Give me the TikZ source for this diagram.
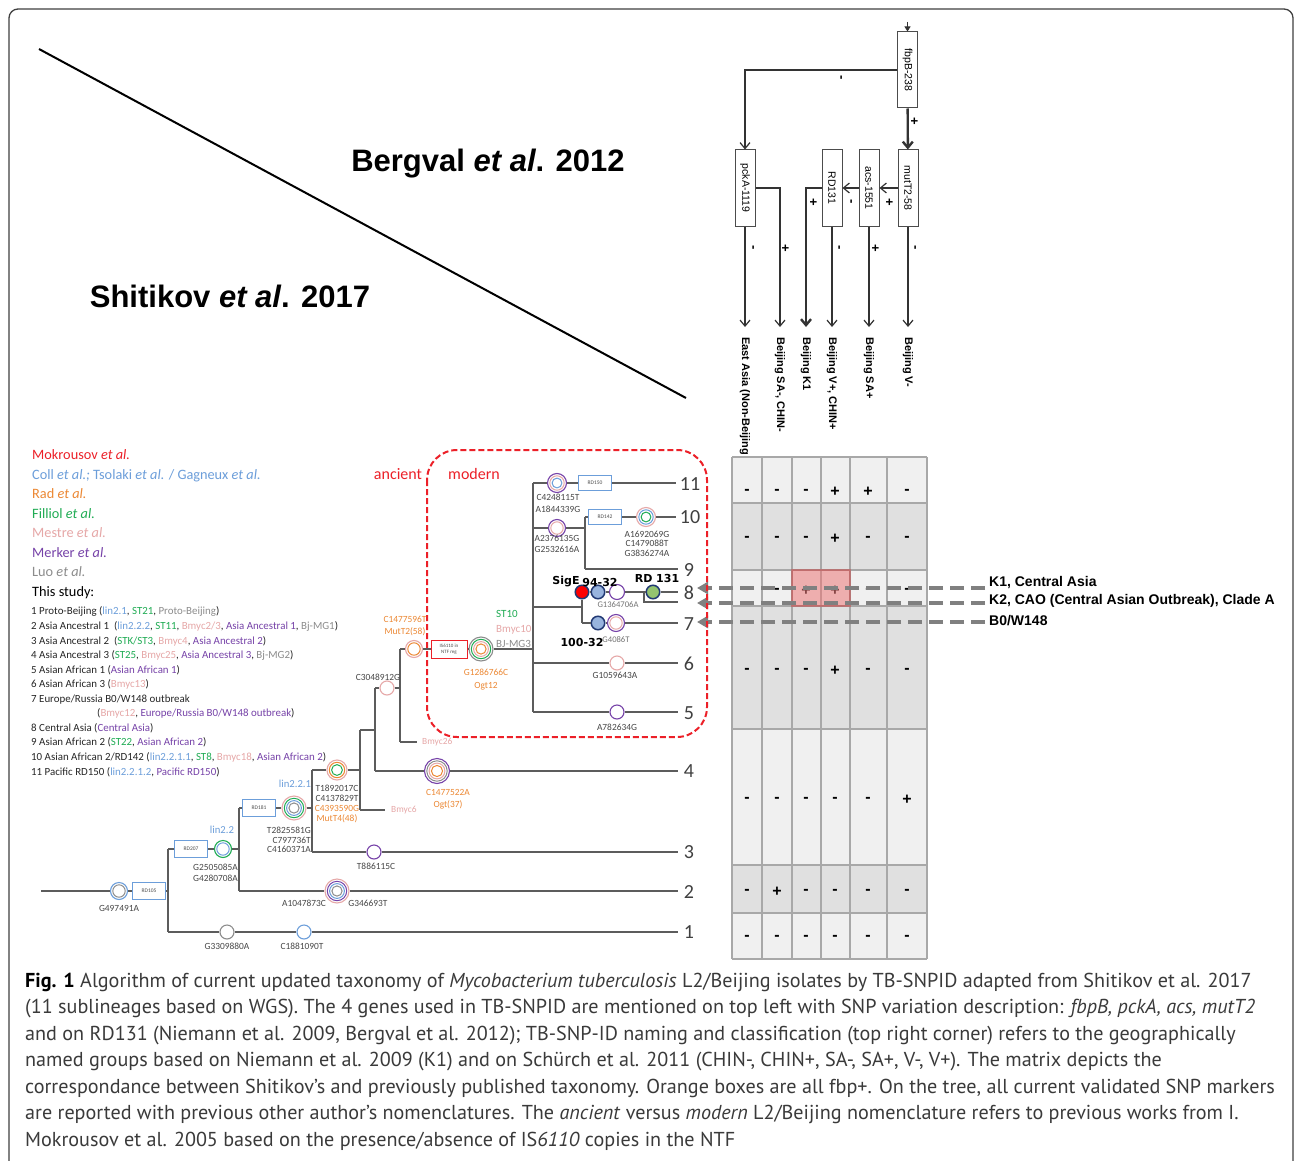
\documentclass[tikz,border=0pt]{standalone}
\usepackage{fontspec}
\setmainfont{Carlito}
\newfontfamily\arialfont{Liberation Sans}
\newfontfamily\capfont{PT Sans}
\newfontfamily\dvfont{DejaVu Sans}
\usetikzlibrary{arrows.meta}
\definecolor{mok_red}{RGB}{236,32,40}
\definecolor{coll_blue}{RGB}{108,158,218}
\definecolor{rad_orange}{RGB}{236,136,52}
\definecolor{fil_green}{RGB}{32,172,84}
\definecolor{mes_pink}{RGB}{230,168,168}
\definecolor{mer_purple}{RGB}{118,66,168}
\definecolor{luo_gray}{RGB}{140,140,140}
\definecolor{tree_gray}{RGB}{92,92,92}
\definecolor{dot_navy}{RGB}{34,58,116}
\definecolor{dot_blue}{RGB}{152,180,222}
\definecolor{dot_green}{RGB}{148,196,112}
\definecolor{cell_light}{RGB}{240,240,240}
\definecolor{cell_dark}{RGB}{224,224,224}
\definecolor{cell_line}{RGB}{168,168,168}
\definecolor{cell_red}{RGB}{238,120,120}
\definecolor{dash_gray}{RGB}{128,128,128}
\definecolor{cap_gray}{RGB}{58,58,58}
\tikzstyle{none}=[inner sep=0pt]
\tikzstyle{branch}=[draw=tree_gray, line width=1.7pt]
\tikzstyle{rd}=[rectangle, draw=coll_blue, fill=white, line width=1pt,
  minimum width=33pt, minimum height=17pt, inner sep=0pt,
  font=\fontsize{5.5}{6}\selectfont, text=black!70]
\tikzstyle{is}=[rd, draw=mok_red, minimum width=36pt, minimum height=18pt,
  align=center, font=\fontsize{5}{6}\selectfont]
\tikzstyle{dot}=[circle, draw=dot_navy, line width=1.5pt, inner sep=0pt,
  minimum size=13.5pt]
\tikzstyle{mk}=[inner sep=0pt, align=center, text=black!72,
  font=\fontsize{9.4}{11}\selectfont]
\tikzstyle{mksmall}=[mk, text=black!55, font=\fontsize{8.6}{10}\selectfont]
\tikzstyle{tag}=[inner sep=0pt, text=black,
  font=\dvfont\bfseries\fontsize{11}{12}\selectfont]
\tikzstyle{sub}=[inner sep=0pt, text=black!75, font=\fontsize{20}{20}\selectfont]
\tikzstyle{gene}=[rectangle, draw=black!70, fill=white, line width=1pt,
  minimum width=76pt, minimum height=20pt, inner sep=0pt, rotate=-90,
  font=\arialfont\fontsize{10.5}{12}\selectfont]
\tikzstyle{group}=[inner sep=0pt, anchor=west, rotate=-90,
  font=\arialfont\bfseries\fontsize{11}{12}\selectfont]
\tikzstyle{sign}=[inner sep=0pt, rotate=-90,
  font=\arialfont\bfseries\fontsize{13}{13}\selectfont]
\tikzstyle{flow}=[draw=black!80, line width=1.2pt,
  -{Straight Barb[length=6pt,width=10pt]}]
\tikzstyle{cls}=[inner sep=2pt, anchor=west,
  font=\arialfont\bfseries\fontsize{14}{14}\selectfont]
\tikzstyle{pointer}=[draw=dash_gray, line width=4pt, dash pattern=on 14pt off 7pt,
  -{Triangle[length=11pt,width=12pt]}]
\tikzstyle{cell}=[inner sep=0pt, font=\arialfont\bfseries\fontsize{16}{16}\selectfont]
\tikzstyle{leg}=[inner sep=0pt, anchor=base west, font=\fontsize{14.3}{16}\selectfont]
\tikzstyle{legn}=[inner sep=0pt, anchor=base west, text=black!85,
  font=\fontsize{10.9}{12}\selectfont]
\tikzstyle{capline}=[inner sep=0pt, anchor=base west, text=cap_gray,
  font=\capfont\fontsize{20.15}{24}\selectfont]
\tikzstyle{title}=[inner sep=0pt, font=\arialfont\bfseries\fontsize{31}{36}\selectfont]
\tikzset{
  snp/.style 2 args={circle, draw=#1, fill=white, line width=1.1pt,
    inner sep=0pt, minimum size=#2},
  rings/.style 2 args={path picture={\foreach \c [count=\i] in {#2}
    \draw [draw=\c, line width=1pt] (path picture bounding box.center)
      circle [radius={#1-2.3pt*\i}];}}
}

\begin{document}
\begin{tikzpicture}[x=1pt, y=-1pt]
            \useasboundingbox (0, 0) rectangle (1295, 1161);
            \fill [white] (0, 0) rectangle (1295, 1161);
            \draw [draw=black!75, line width=1.3pt, rounded corners=9pt] (9, 9) rectangle (1293, 1185);
            \draw [line width=2pt] (39, 49) -- (686, 398);
            \node [style=title] (t0) at (488, 164) {Bergval \textit{et al}. 2012};
            \node [style=title] (t1) at (230, 296) {Shitikov \textit{et al}. 2017};

            \node [style=gene] (d0) at (907.5, 70) {fbpB-238};
            \node [style=gene] (d1) at (908, 188) {mutT2-58};
            \node [style=gene] (d2) at (869, 188) {acs-1551};
            \node [style=gene] (d3) at (832, 188) {RD131};
            \node [style=gene] (d4) at (745, 188) {pckA-1119};
            \node [style=none] (d5) at (907.5, 22) {};
            \node [style=none] (e1) at (745, 327) {};
            \node [style=none] (e2) at (780, 327) {};
            \node [style=none] (e3) at (806, 327) {};
            \node [style=none] (e4) at (832, 327) {};
            \node [style=none] (e5) at (869, 327) {};
            \node [style=none] (e6) at (908, 327) {};
            \draw [draw=black!80, line width=1pt, -{Triangle[length=5pt,width=6pt]}] (d5.center) to (d0);
            \draw [style=flow] (d0) -| (d4);
            \draw [style=flow, line width=2.4pt] (d0) to (d1);
            \draw [style=flow] (d1) to (d2);
            \draw [style=flow] (d2) to (d3);
            \draw [style=flow, line width=2.4pt] (d3) -| (e3.center);
            \draw [style=flow] (d4) -| (e2.center);
            \draw [style=flow] (d4) to (e1.center);
            \draw [style=flow] (d3) to (e4.center);
            \draw [style=flow] (d2) to (e5.center);
            \draw [style=flow] (d1) to (e6.center);
            \node [style=sign] (g0) at (840, 78) {-};
            \node [style=sign] (g1) at (914, 121) {+};
            \node [style=sign] (g2) at (889, 202) {+};
            \node [style=sign] (g3) at (850, 202) {-};
            \node [style=sign] (g4) at (813, 202) {+};
            \node [style=sign] (g5) at (752, 248) {-};
            \node [style=sign] (g6) at (785, 248) {+};
            \node [style=sign] (g7) at (838, 248) {-};
            \node [style=sign] (g8) at (875, 248) {+};
            \node [style=sign] (g9) at (914, 248) {-};
            \node [style=group] (o1) at (745, 337) {East Asia (Non-Beijing};
            \node [style=group] (o2) at (780, 337) {Beijing SA-, CHIN-};
            \node [style=group] (o3) at (806, 337) {Beijing K1};
            \node [style=group] (o4) at (832, 337) {Beijing V+, CHIN+};
            \node [style=group] (o5) at (869, 337) {Beijing SA+};
            \node [style=group] (o6) at (908, 337) {Beijing V-};

            \foreach \ya/\yb/\fc in {457/503/cell_light, 503/570/cell_dark, 570/606/cell_light,
              606/729/cell_dark, 729/865/cell_light, 865/913/cell_dark, 913/959/cell_light}
              \fill [\fc] (732, \ya) rectangle (927, \yb);
            \foreach \x in {732, 762, 792, 821, 850, 887, 927}
              \draw [draw=cell_line, line width=2pt] (\x, 457) -- (\x, 959);
            \foreach \y in {457, 503, 570, 606, 729, 865, 913, 959}
              \draw [draw=cell_line, line width=2pt] (732, \y) -- (927, \y);
            \foreach \ry/\row [count=\r] in {492/{-,-,-,+,+,-}, 539/{-,-,-,+,-,-}, 591/{-,-,+,+,-,-},
              671/{-,-,-,+,-,-}, 800/{-,-,-,-,-,+}, 892/{-,+,-,-,-,-}, 938/{-,-,-,-,-,-}}
              \foreach \s [count=\c] in \row {
                \pgfmathsetmacro{\cx}{{747,777,806,835,868,907}[\c-1]}
                \node [style=cell] (m\r\c) at (\cx, \ry) {\s};
              }
            \fill [cell_red, opacity=0.55] (792, 570) rectangle (850, 606);
            \draw [draw=cell_red!80!black, line width=1.2pt, opacity=0.7] (792, 570) rectangle (850, 606);

            \node [style=cls] (k1) at (987, 583) {K1, Central Asia};
            \node [style=cls] (k2) at (987, 601) {K2, CAO (Central Asian Outbreak), Clade A};
            \node [style=cls] (k3) at (987, 621) {B0/W148};
            \node [style=none] (u1) at (985, 588) {};
            \node [style=none] (u2) at (985, 603) {};
            \node [style=none] (u3) at (985, 622) {};
            \node [style=none] (v1) at (697, 588) {};
            \node [style=none] (v2) at (697, 603) {};
            \node [style=none] (v3) at (697, 622) {};
            \draw [style=pointer] (u1.center) to (v1.center);
            \draw [style=pointer] (u2.center) to (v2.center);
            \draw [style=pointer] (u3.center) to (v3.center);

            \node [style=leg, text=mok_red] (l1) at (32, 459.5) {Mokrousov \textit{et al.}};
            \node [style=leg, text=coll_blue] (l2) at (32, 479) {Coll \textit{et al.;} Tsolaki \textit{et al.} / Gagneux \textit{et al.}};
            \node [style=leg, text=rad_orange] (l3) at (32, 498.5) {Rad \textit{et al.}};
            \node [style=leg, text=fil_green] (l4) at (32, 518) {Filliol \textit{et al.}};
            \node [style=leg, text=mes_pink] (l5) at (32, 537.5) {Mestre \textit{et al.}};
            \node [style=leg, text=mer_purple] (l6) at (32, 557) {Merker \textit{et al.}};
            \node [style=leg, text=luo_gray] (l7) at (32, 576.5) {Luo \textit{et al.}};
            \node [style=leg, text=black] (l8) at (32, 596.5) {This study:};
            \node [style=legn] (s1) at (31, 614) {1 Proto-Beijing (\textcolor{coll_blue}{lin2.1}, \textcolor{fil_green}{ST21}, \textcolor{luo_gray}{Proto-Beijing})};
            \node [style=legn] (s2) at (31, 629) {2 Asia Ancestral 1~~(\textcolor{coll_blue}{lin2.2.2}, \textcolor{fil_green}{ST11}, \textcolor{mes_pink}{Bmyc2/3}, \textcolor{mer_purple}{Asia Ancestral 1}, \textcolor{luo_gray}{Bj-MG1})};
            \node [style=legn] (s3) at (31, 644) {3 Asia Ancestral 2~~(\textcolor{fil_green}{STK/ST3}, \textcolor{mes_pink}{Bmyc4}, \textcolor{mer_purple}{Asia Ancestral 2})};
            \node [style=legn] (s4) at (31, 658.5) {4 Asia Ancestral 3 (\textcolor{fil_green}{ST25}, \textcolor{mes_pink}{Bmyc25}, \textcolor{mer_purple}{Asia Ancestral 3}, \textcolor{luo_gray}{Bj-MG2})};
            \node [style=legn] (s5) at (31, 673) {5 Asian African 1 (\textcolor{mer_purple}{Asian African 1})};
            \node [style=legn] (s6) at (31, 687.5) {6 Asian African 3 (\textcolor{mes_pink}{Bmyc13})};
            \node [style=legn] (s7) at (31, 702) {7 Europe/Russia B0/W148 outbreak};
            \node [style=legn] (s7b) at (97, 716.5) {(\textcolor{mes_pink}{Bmyc12}, \textcolor{mer_purple}{Europe/Russia B0/W148 outbreak})};
            \node [style=legn] (s8) at (31, 731) {8 Central Asia (\textcolor{mer_purple}{Central Asia})};
            \node [style=legn] (s9) at (31, 745.5) {9 Asian African 2 (\textcolor{fil_green}{ST22}, \textcolor{mer_purple}{Asian African 2})};
            \node [style=legn] (s10) at (31, 760) {10 Asian African 2/RD142 (\textcolor{coll_blue}{lin2.2.1.1}, \textcolor{fil_green}{ST8}, \textcolor{mes_pink}{Bmyc18}, \textcolor{mer_purple}{Asian African 2})};
            \node [style=legn] (s11) at (31, 775) {11 Pacific RD150 (\textcolor{coll_blue}{lin2.2.1.2}, \textcolor{mer_purple}{Pacific RD150})};

            \draw [draw=mok_red, line width=2pt, dash pattern=on 6pt off 3pt, rounded corners=30pt] (427, 450) rectangle (707, 737);
            \node [style=mk, text=mok_red, font=\fontsize{16}{16}\selectfont] (129) at (398, 474) {ancient};
            \node [style=mk, text=mok_red, font=\fontsize{16}{16}\selectfont] (130) at (474, 474) {modern};

            \node [style=none] (0) at (41, 891) {};
            \node [snp={coll_blue}{17pt}, rings={8.5pt}{luo_gray}] (1) at (119, 891) {};
            \node [style=rd] (2) at (149, 891) {RD105};
            \node [style=none] (3) at (168, 891) {};
            \node [style=none] (4) at (168, 849) {};
            \node [style=none] (5) at (168, 932) {};
            \node [snp={luo_gray}{14pt}] (6) at (227, 932) {};
            \node [snp={coll_blue}{14pt}] (7) at (304, 932) {};
            \node [style=none] (8) at (678, 932) {};
            \node [style=rd] (9) at (191, 849) {RD207};
            \node [snp={fil_green}{17pt}, rings={8.5pt}{coll_blue}] (10) at (223, 849) {};
            \node [style=none] (11) at (239, 849) {};
            \node [style=none] (12) at (239, 808) {};
            \node [style=none] (13) at (239, 891) {};
            \node [snp={mes_pink}{24pt}, rings={12pt}{mer_purple,coll_blue,luo_gray}] (14) at (337, 891) {};
            \node [style=none] (15) at (678, 891) {};
            \node [style=rd] (16) at (259, 808) {RD181};
            \node [snp={mes_pink}{24pt}, rings={12pt}{fil_green,coll_blue,luo_gray}] (17) at (294, 808) {};
            \node [style=none] (18) at (312, 808) {};
            \node [style=none] (19) at (312, 770) {};
            \node [style=none] (20) at (312, 852) {};
            \node [snp={mer_purple}{14pt}] (21) at (374, 852) {};
            \node [style=none] (22) at (678, 852) {};
            \node [snp={mes_pink}{20pt}, rings={10pt}{rad_orange,fil_green}] (23) at (337, 770) {};
            \node [style=none] (24) at (360, 770) {};
            \node [style=none] (25) at (360, 730) {};
            \node [style=none] (26) at (360, 810) {};
            \node [style=none] (27) at (385, 810) {};
            \node [style=none] (28) at (375, 730) {};
            \node [style=none] (29) at (375, 688) {};
            \node [style=none] (30) at (375, 771) {};
            \node [snp={mer_purple}{25pt}, rings={12.5pt}{luo_gray,mes_pink,rad_orange}] (31) at (437, 771) {};
            \node [style=none] (32) at (678, 771) {};
            \node [snp={mes_pink}{14pt}] (33) at (387, 688) {};
            \node [style=none] (34) at (400, 688) {};
            \node [style=none] (35) at (400, 649) {};
            \node [style=none] (36) at (400, 742) {};
            \node [style=none] (37) at (417, 742) {};
            \node [snp={mes_pink}{17pt}, rings={8.5pt}{rad_orange}] (38) at (414, 649) {};
            \node [style=is] (39) at (449, 649) {IS6110 in\\NTF reg};
            \node [snp={luo_gray}{24pt}, rings={12pt}{fil_green,mes_pink,rad_orange}] (40) at (481, 649) {};
            \node [style=none] (41) at (533, 649) {};
            \node [style=none] (42) at (533, 483) {};
            \node [style=none] (43) at (533, 712) {};
            \node [snp={mer_purple}{19pt}, rings={9.5pt}{mes_pink,coll_blue}] (44) at (557, 483) {};
            \node [style=rd, minimum height=15pt] (45) at (595, 483) {RD150};
            \node [style=none] (46) at (676, 483) {};
            \node [style=none] (47) at (533, 528) {};
            \node [snp={mer_purple}{17pt}, rings={8.5pt}{mes_pink}] (48) at (557, 528) {};
            \node [style=none] (49) at (585, 528) {};
            \node [style=none] (50) at (585, 517) {};
            \node [style=none] (51) at (585, 569) {};
            \node [style=rd, minimum height=15pt] (52) at (605, 517) {RD142};
            \node [snp={mes_pink}{19pt}, rings={9.5pt}{coll_blue,fil_green}] (53) at (646, 517) {};
            \node [style=none] (54) at (676, 517) {};
            \node [style=none] (55) at (678, 569) {};
            \node [style=none] (56) at (533, 607) {};
            \node [style=none] (57) at (582, 607) {};
            \node [style=dot, fill=red] (58) at (582, 592) {};
            \node [style=none] (59) at (582, 623) {};
            \node [style=dot, fill=dot_blue] (60) at (598, 592) {};
            \node [snp={mer_purple}{15pt}] (61) at (617, 592) {};
            \node [style=none] (62) at (644, 592) {};
            \node [style=dot, fill=dot_green] (63) at (653, 592) {};
            \node [style=none] (64) at (678, 592) {};
            \node [style=none] (65) at (644, 602) {};
            \node [style=none] (66) at (678, 602) {};
            \node [style=dot, fill=dot_blue] (67) at (598, 623) {};
            \node [snp={mer_purple}{17pt}, rings={8.5pt}{mes_pink}] (68) at (616, 623) {};
            \node [style=none] (69) at (678, 623) {};
            \node [style=none] (70) at (533, 663) {};
            \node [snp={mes_pink}{14pt}] (71) at (617, 663) {};
            \node [style=none] (72) at (678, 663) {};
            \node [snp={mer_purple}{14pt}] (73) at (617, 712) {};
            \node [style=none] (74) at (678, 712) {};

            \draw [style=branch] (0.center) to (1) to (2) to (3.center);
            \draw [style=branch] (4.center) to (5.center);
            \draw [style=branch] (5.center) to (6) to (7) to (8.center);
            \draw [style=branch] (4.center) to (9) to (10) to (11.center);
            \draw [style=branch] (12.center) to (13.center);
            \draw [style=branch] (13.center) to (14) to (15.center);
            \draw [style=branch] (12.center) to (16) to (17) to (18.center);
            \draw [style=branch] (19.center) to (20.center);
            \draw [style=branch] (20.center) to (21) to (22.center);
            \draw [style=branch] (19.center) to (23) to (24.center);
            \draw [style=branch] (25.center) to (26.center);
            \draw [style=branch] (26.center) to (27.center);
            \draw [style=branch] (25.center) to (28.center);
            \draw [style=branch] (29.center) to (30.center);
            \draw [style=branch] (30.center) to (31) to (32.center);
            \draw [style=branch] (29.center) to (33) to (34.center);
            \draw [style=branch] (35.center) to (36.center);
            \draw [style=branch] (36.center) to (37.center);
            \draw [style=branch] (35.center) to (38) to (39) to (40) to (41.center);
            \draw [style=branch] (42.center) to (43.center);
            \draw [style=branch] (42.center) to (44) to (45) to (46.center);
            \draw [style=branch] (47.center) to (48) to (49.center);
            \draw [style=branch] (50.center) to (51.center);
            \draw [style=branch] (50.center) to (52) to (53) to (54.center);
            \draw [style=branch] (51.center) to (55.center);
            \draw [style=branch] (56.center) to (57.center);
            \draw [style=branch] (58) to (59.center);
            \draw [style=branch] (58) to (60) to (61) to (62.center) to (63) to (64.center);
            \draw [style=branch] (62.center) to (65.center) to (66.center);
            \draw [style=branch] (59.center) to (67) to (68) to (69.center);
            \draw [style=branch] (70.center) to (71) to (72.center);
            \draw [style=branch] (43.center) to (73) to (74.center);

            \node [style=sub] (n11) at (690, 484) {11};
            \node [style=sub] (n10) at (690, 517) {10};
            \node [style=sub] (n9) at (689, 570) {9};
            \node [style=sub] (n8) at (689, 593) {8};
            \node [style=sub] (n7) at (689, 624) {7};
            \node [style=sub] (n6) at (689, 664) {6};
            \node [style=sub] (n5) at (689, 713) {5};
            \node [style=sub] (n4) at (689, 771) {4};
            \node [style=sub] (n3) at (689, 852) {3};
            \node [style=sub] (n2) at (689, 892) {2};
            \node [style=sub] (n1) at (689, 932) {1};

            \node [style=mk] (100) at (119, 908) {G497491A};
            \node [style=mk] (101) at (227, 946) {G3309880A};
            \node [style=mk] (102) at (302, 946) {C1881090T};
            \node [style=mk, text=coll_blue, font=\fontsize{10.7}{12}\selectfont] (103) at (222, 830) {lin2.2};
            \node [style=mk, align=right, anchor=east] (104) at (238, 873) {G2505085A\\G4280708A};
            \node [style=mk] (105) at (304, 903) {A1047873C};
            \node [style=mk] (106) at (368, 903) {G346693T};
            \node [style=mk, text=coll_blue, font=\fontsize{10.7}{12}\selectfont] (107) at (295, 784) {lin2.2.1};
            \node [style=mk, align=right, anchor=east, font=\fontsize{9.4}{9.8}\selectfont] (108) at (311, 840) {T2825581G\\C797736T\\C4160371A};
            \node [style=mk, font=\fontsize{9.4}{10.2}\selectfont] (109) at (337, 804) {T1892017C\\C4137829T\\\textcolor{rad_orange}{C4393590G}\\\textcolor{rad_orange}{MutT4(48)}};
            \node [style=mk] (110) at (376, 866) {T886115C};
            \node [style=mk, text=mes_pink, anchor=west] (111) at (391, 810) {Bmyc6};
            \node [style=mk, text=rad_orange, font=\fontsize{9.4}{12.4}\selectfont] (112) at (448, 799) {C1477522A\\Ogt(37)};
            \node [style=mk] (113) at (378, 677) {C3048912G};
            \node [style=mk, text=mes_pink, anchor=west] (114) at (422, 742) {Bmyc26};
            \node [style=mk, text=rad_orange, font=\fontsize{9.4}{12.3}\selectfont] (115) at (405, 626) {C1477596T\\MutT2(58)};
            \node [style=mk, text=rad_orange, font=\fontsize{9.4}{13}\selectfont] (116) at (486, 680) {G1286766C\\Ogt12};
            \node [style=mk, anchor=west, align=left, font=\fontsize{11}{15}\selectfont] (117) at (496, 629) {\textcolor{fil_green}{ST10}\\\textcolor{mes_pink}{Bmyc10}\\\textcolor{luo_gray}{BJ-MG3}};
            \node [style=mk, font=\fontsize{9.4}{12}\selectfont] (118) at (558, 503) {C4248115T\\A1844339G};
            \node [style=mk] (119) at (557, 544) {A2376135G\\G2532616A};
            \node [style=mk, font=\fontsize{9.4}{9.6}\selectfont] (120) at (647, 543.5) {A1692069G\\C1479088T\\G3836274A};
            \node [style=mksmall] (121) at (618, 605) {G1364706A};
            \node [style=mksmall] (122) at (616, 640) {G4086T};
            \node [style=mk] (123) at (615, 675) {G1059643A};
            \node [style=mk] (124) at (617, 727) {A782634G};
            \node [style=tag] (125) at (566, 582) {SigE};
            \node [style=tag] (126) at (600, 582) {94-32};
            \node [style=tag] (127) at (657, 578) {RD 131};
            \node [style=tag] (128) at (582, 642) {100-32};

            \node [style=capline] (c1) at (25, 987) {\textbf{\color{black}Fig. 1} Algorithm of current updated taxonomy of \textit{Mycobacterium tuberculosis} L2/Beijing isolates by TB-SNPID adapted from Shitikov et al. 2017};
            \node [style=capline] (c2) at (25, 1013.5) {(11 sublineages based on WGS). The 4 genes used in TB-SNPID are mentioned on top left with SNP variation description: \textit{fbpB, pckA, acs, mutT2}};
            \node [style=capline] (c3) at (25, 1040) {and on RD131 (Niemann et al. 2009, Bergval et al. 2012); TB-SNP-ID naming and classification (top right corner) refers to the geographically};
            \node [style=capline] (c4) at (25, 1066.5) {named groups based on Niemann et al. 2009 (K1) and on Schürch et al. 2011 (CHIN-, CHIN+, SA-, SA+, V-, V+). The matrix depicts the};
            \node [style=capline] (c5) at (25, 1093) {correspondance between Shitikov’s and previously published taxonomy. Orange boxes are all fbp+. On the tree, all current validated SNP markers};
            \node [style=capline] (c6) at (25, 1119.5) {are reported with previous other author’s nomenclatures. The \textit{ancient} versus \textit{modern} L2/Beijing nomenclature refers to previous works from I.};
            \node [style=capline] (c7) at (25, 1146) {Mokrousov et al. 2005 based on the presence/absence of IS\textit{6110} copies in the NTF};
\end{tikzpicture}
\end{document}
